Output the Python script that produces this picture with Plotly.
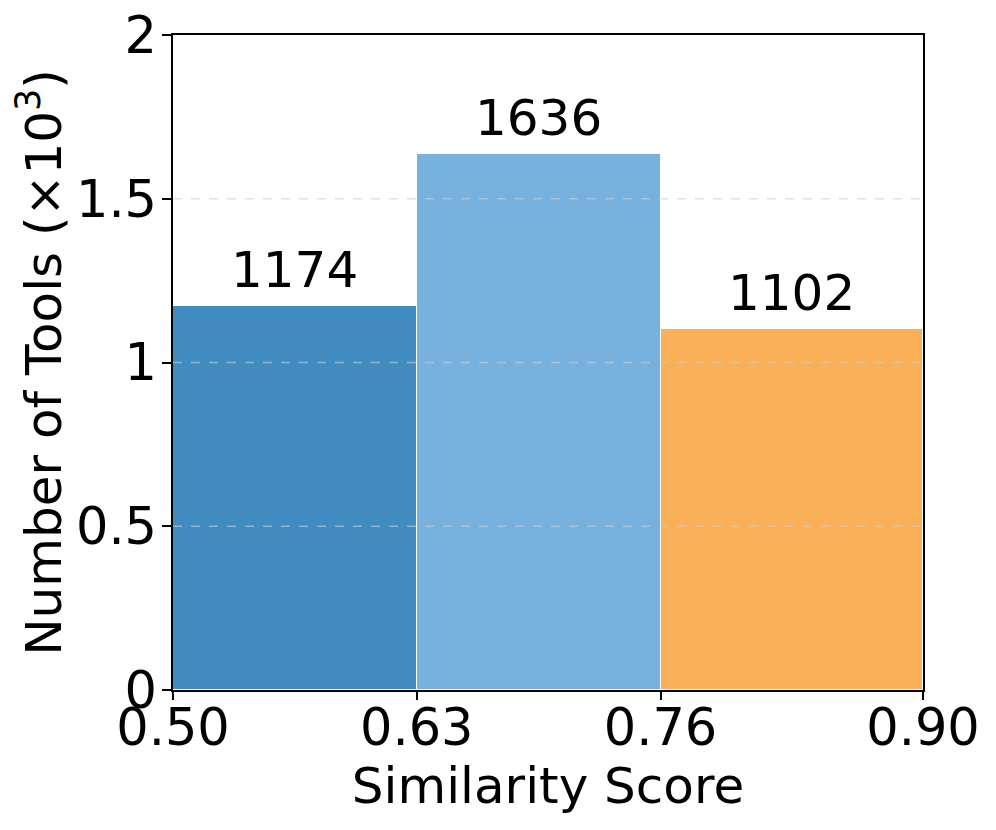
import plotly.graph_objects as go

bin_edges = [0.50, 0.63, 0.76, 0.90]
counts = [1174, 1636, 1102]
bar_colors = ["#428bc0", "#77b1de", "#f9b058"]
x_tick_labels = ["0.50", "0.63", "0.76", "0.90"]
y_tick_vals = [0, 0.5, 1, 1.5, 2]
y_tick_labels = ["0", "0.5", "1", "1.5", "2"]

centers = [(bin_edges[i] + bin_edges[i + 1]) / 2 for i in range(len(counts))]
widths = [bin_edges[i + 1] - bin_edges[i] for i in range(len(counts))]
values_k = [c / 1000 for c in counts]

FONT = "DejaVu Sans"
FS_TICK = 51
FS_LABEL = 50
FS_TITLE = 50

fig = go.Figure()
fig.add_trace(go.Bar(
    x=centers, y=values_k, width=widths,
    marker=dict(color=bar_colors, line=dict(color="white", width=1)),
    hoverinfo="skip", showlegend=False,
))

for xc, v, c in zip(centers, values_k, counts):
    fig.add_annotation(x=xc, y=v, text=str(c), showarrow=False,
                       yanchor="bottom", yshift=5,
                       font=dict(family=FONT, size=FS_LABEL, color="black"))

# dashed grid lines drawn above the bars, as in the reference
for yv in y_tick_vals[1:-1]:
    fig.add_shape(type="line", xref="x domain", yref="y", x0=0, x1=1, y0=yv, y1=yv,
                  line=dict(color="rgba(205,205,205,0.6)", width=1.5, dash="dash"),
                  layer="above")

fig.update_layout(
    width=996, height=830,
    margin=dict(l=165, r=81, t=27, b=148),
    paper_bgcolor="white", plot_bgcolor="white",
    font=dict(family=FONT, size=FS_TICK, color="black"),
    bargap=0,
    xaxis=dict(
        range=[bin_edges[0], bin_edges[-1]],
        tickvals=bin_edges, ticktext=x_tick_labels,
        showgrid=False, zeroline=False, automargin=False,
        showline=True, linecolor="black", linewidth=1.5, mirror=True,
        ticks="outside", ticklen=8, tickwidth=1.5, tickcolor="black",
        tickfont=dict(family=FONT, size=FS_TICK),
        ticklabelstandoff=-16, ticklabeloverflow="allow",
        title=dict(text="Similarity Score", font=dict(family=FONT, size=FS_TITLE), standoff=0),
    ),
    yaxis=dict(
        range=[0, 2],
        tickvals=y_tick_vals, ticktext=y_tick_labels,
        showgrid=False, zeroline=False, automargin=False,
        showline=True, linecolor="black", linewidth=1.5, mirror=True,
        ticks="outside", ticklen=9, tickwidth=1.5, tickcolor="black",
        tickfont=dict(family=FONT, size=FS_TICK),
        ticklabelstandoff=-5, ticklabeloverflow="allow",
        title=dict(text="Number of Tools (×10<sup>3</sup>)", font=dict(family=FONT, size=FS_TITLE), standoff=19),
    ),
)

fig.write_html("out.html")
